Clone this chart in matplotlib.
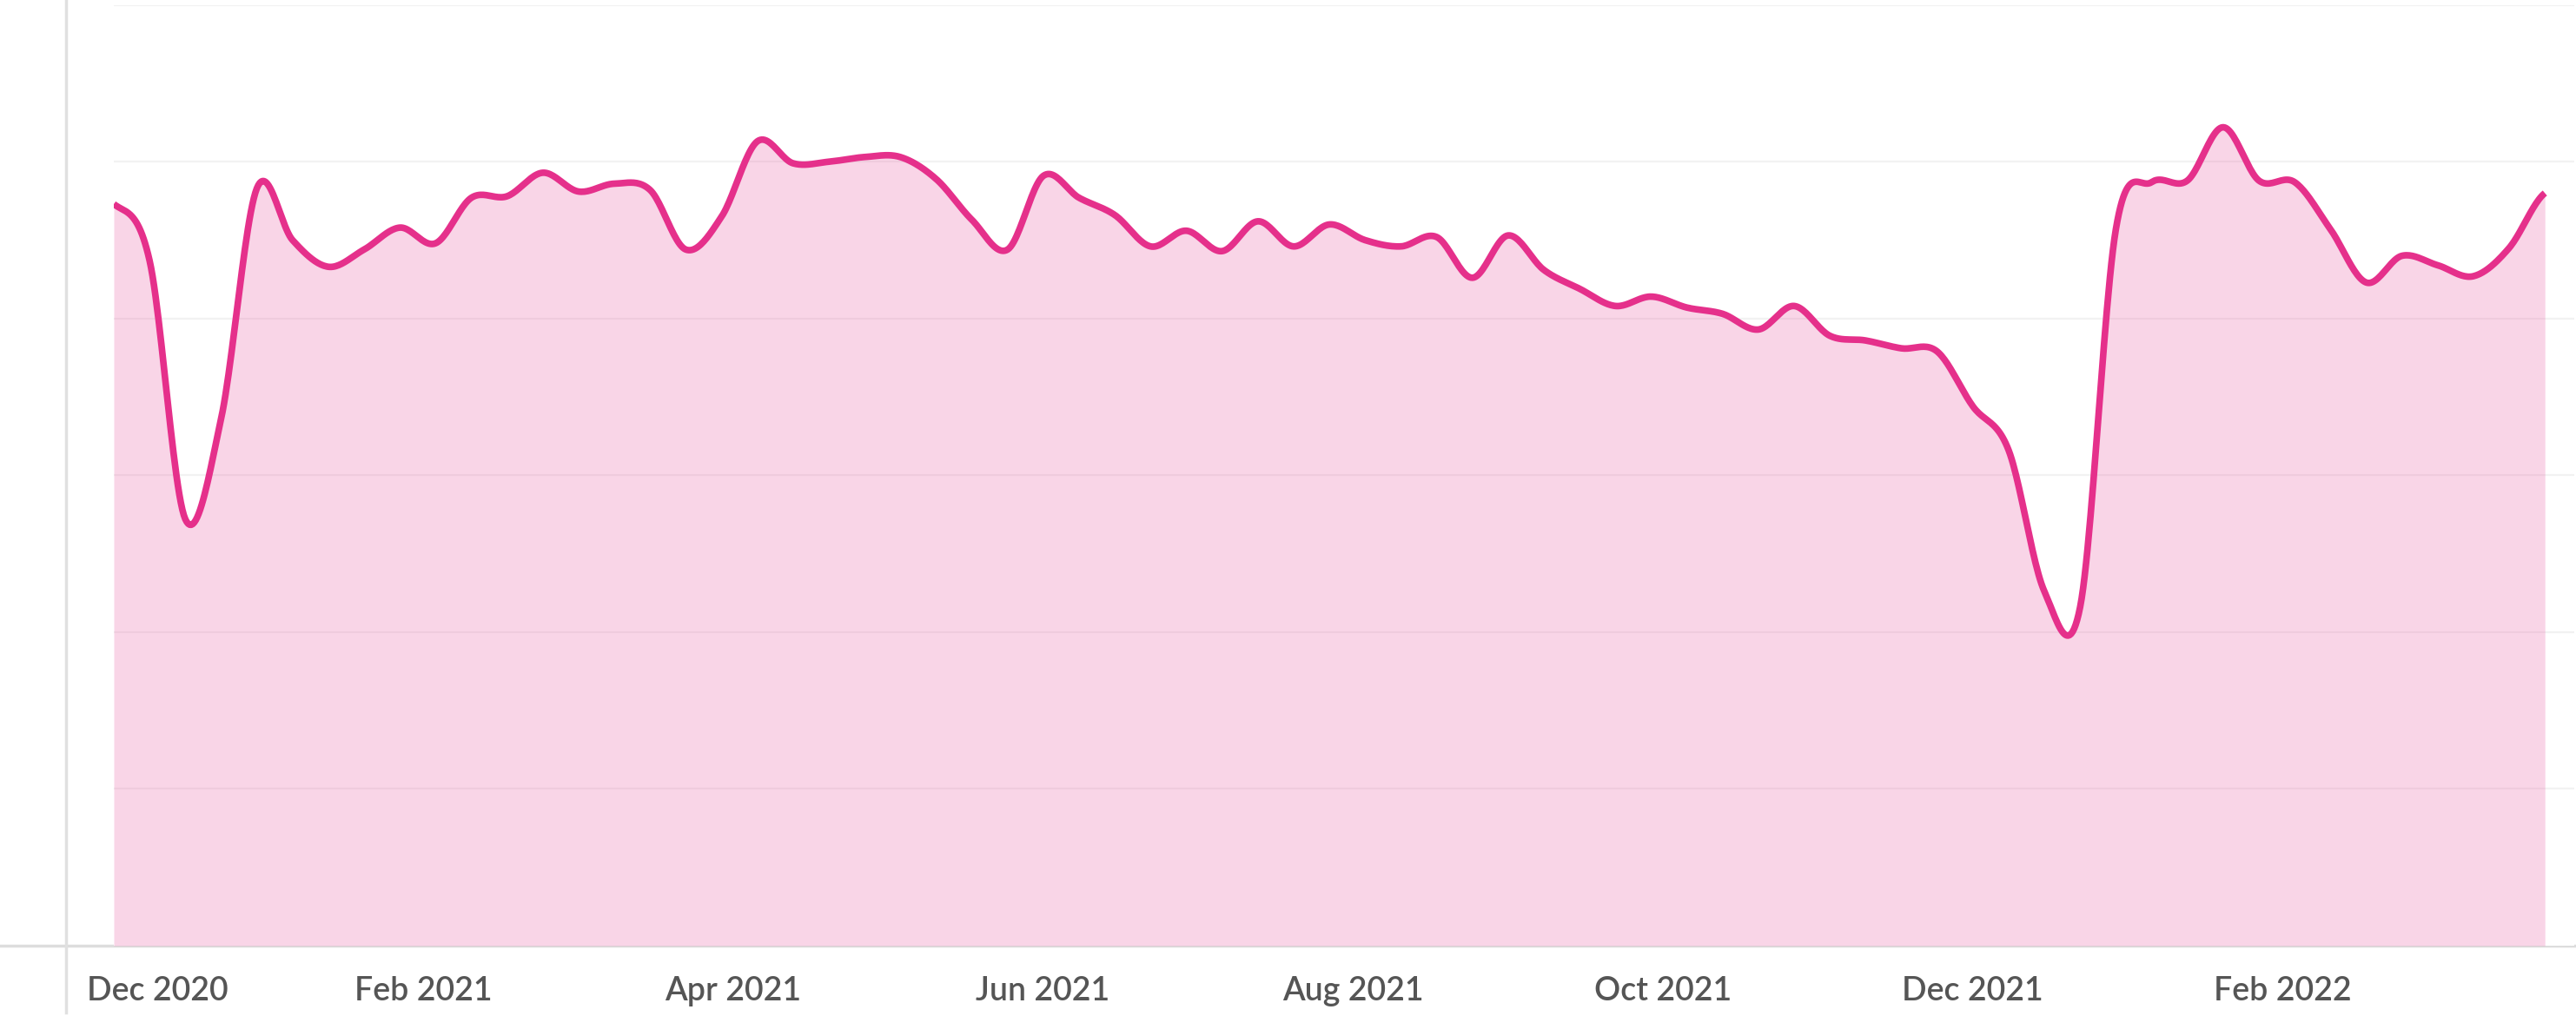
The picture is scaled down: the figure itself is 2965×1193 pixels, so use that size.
import matplotlib.pyplot as plt
from matplotlib.lines import Line2D
import numpy as np

# weekly values (one gridline = 10 units)
weeks = np.arange(69)
values = [47.3, 43.7, 27.2, 33.6, 48.3, 45.0, 43.3, 44.4, 45.8, 44.8,
          47.7, 47.8, 49.3, 48.1, 48.6, 48.2, 44.4, 46.5, 51.3, 49.9,
          50.0, 50.3, 50.3, 48.9, 46.3, 44.4, 49.1, 47.7, 46.6, 44.6,
          45.6, 44.3, 46.2, 44.6, 46.0, 45.0, 44.6, 45.2, 42.6, 45.3,
          43.1, 41.9, 40.8, 41.4, 40.7, 40.3, 39.3, 40.8, 38.9, 38.6,
          38.1, 37.9, 34.4, 31.6, 22.6, 21.6, 45.7, 48.7, 48.8, 52.2,
          48.8, 48.7, 45.7, 42.3, 44.0, 43.4, 42.7, 44.5, 48.0]

tick_labels = ['Dec 2020', 'Feb 2021', 'Apr 2021', 'Jun 2021',
               'Aug 2021', 'Oct 2021', 'Dec 2021', 'Feb 2022']

LINE = '#e5308b'
W, H = 2965, 1193
FONT = dict(fontsize=27, fontweight='semibold', color='#555555',
            family=['Lato', 'DejaVu Sans'])


def catmull_rom(x, y, n=24):
    '''Smooth curve through the points (like a cardinal curve in d3).'''
    x = np.asarray(x, float)
    y = np.asarray(y, float)
    yp = np.concatenate([[y[0]], y, [y[-1]]])
    xs, ys = [], []
    t = np.linspace(0, 1, n, endpoint=False)
    h00 = 2 * t**3 - 3 * t**2 + 1
    h10 = t**3 - 2 * t**2 + t
    h01 = -2 * t**3 + 3 * t**2
    h11 = t**3 - t**2
    for i in range(len(y) - 1):
        p0, p1, p2, p3 = yp[i:i + 4]
        m1 = (p2 - p0) / 2
        m2 = (p3 - p1) / 2
        ys.append(h00 * p1 + h10 * m1 + h01 * p2 + h11 * m2)
        xs.append(x[i] + t * (x[i + 1] - x[i]))
    xs.append([x[-1]])
    ys.append([y[-1]])
    return np.concatenate(xs), np.concatenate(ys)


fig = plt.figure(figsize=(W / 100, H / 100), dpi=100)
px_week = 41.15
x0, x1 = 131, 2963
base_y, top_y = 1089, 5.7
ax = fig.add_axes([x0 / W, 1 - base_y / H, (x1 - x0) / W, (base_y - top_y) / H])
ax.set_xlim(0, (x1 - x0) / px_week)
ax.set_ylim(0, 60)

for g in range(10, 61, 10):
    ax.axhline(g, color='#f2f2f2', lw=1.6, zorder=1)

sx, sy = catmull_rom(weeks, values)
ax.fill_between(sx, sy, 0, color=LINE, alpha=0.2, lw=0, zorder=2)
ax.plot(sx, sy, color=LINE, lw=5.5, solid_capstyle='butt', zorder=3)

for s in ax.spines.values():
    s.set_visible(False)
ax.set_yticks([])

# ticks every ~8.67 weeks; the first one would fall off the left edge,
# so its label is drawn separately, left-aligned
ticks = np.arange(len(tick_labels)) * 8.67 - 0.02
ax.set_xticks(ticks[1:])
ax.set_xticklabels(tick_labels[1:], **FONT)
ax.tick_params(axis='x', length=0, pad=25)
fig.canvas.draw()
lab_top = ax.get_xticklabels()[0].get_window_extent().y1
fig.text(100 / W, lab_top / H, tick_labels[0], ha='left', va='top', **FONT)

# baseline and left axis line
fig.add_artist(Line2D([0, x1 / W], [1 - base_y / H] * 2, color='#dddddd',
                      lw=2.5, transform=fig.transFigure, zorder=0))
fig.add_artist(Line2D([76 / W] * 2, [1 - 1166 / H, 1], color='#e0e0e0',
                      lw=2.5, transform=fig.transFigure, zorder=0))

fig.savefig('out.png', dpi=100, facecolor='white')
